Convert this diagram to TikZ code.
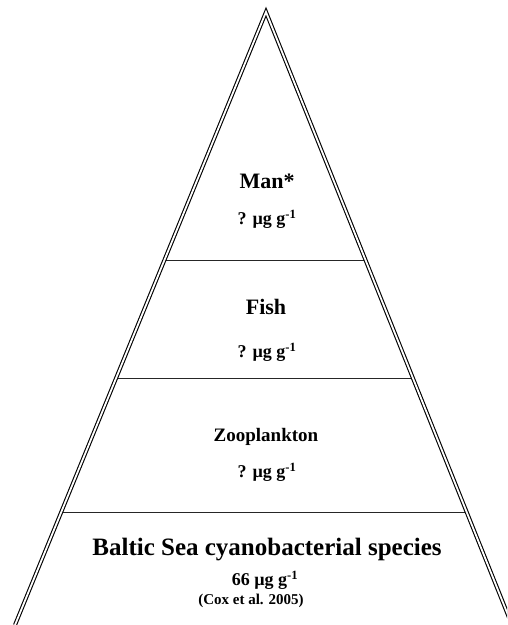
\documentclass[tikz,border=0pt]{standalone}
\usepackage{fontspec}
\setmainfont{Liberation Serif}
\usetikzlibrary{calc}
\tikzset{
  side/.style={double, double distance=1.8pt, line width=1.1pt, draw=black},
  divider/.style={line width=1.5pt, draw=black!85},
  lbl/.style={font=\bfseries, inner sep=0pt, anchor=center},
}
\newcommand{\fs}[1]{\fontsize{#1}{#1}\selectfont}
\begin{document}
\begin{tikzpicture}[x=1pt,y=-1pt]
\useasboundingbox (0,0) rectangle (507,625);
\coordinate (apex) at (266,12);
\coordinate (bl) at (15,625);
\coordinate (br) at (512,625);
% dividers
\foreach \yy/\nm in {260.5/a,378.5/b,512.5/c}{
  \pgfmathsetmacro{\t}{(\yy-12)/613}
  \coordinate (L\nm) at ($(apex)!\t!(bl)$);
  \coordinate (R\nm) at ($(apex)!\t!(br)$);
  \draw[divider] (L\nm) -- (R\nm);
}
\begin{scope}
\clip (0,0) rectangle (507,625);
\draw[side] (bl) -- (apex) -- (br);
\end{scope}
% labels
\node[lbl] (man) at (267,181) {\fs{22}Man*};
\node[lbl] (manv) at (267,219) {\fs{18}? µg g\textsuperscript{-1}};
\node[lbl] (fish) at (266,307) {\fs{22}Fish};
\node[lbl] (fishv) at (267,352) {\fs{18}? µg g\textsuperscript{-1}};
\node[lbl] (zoo) at (266,437) {\fs{19}Zooplankton};
\node[lbl] (zoov) at (267,472) {\fs{18}? µg g\textsuperscript{-1}};
\node[lbl] (balt) at (267,550) {\fs{25}Baltic Sea cyanobacterial species};
\node[lbl] (baltv) at (265,580) {\fs{18}66 µg g\textsuperscript{-1}};
\node[lbl] (cox) at (251,601) {\fs{15}(Cox et al. 2005)};
\end{tikzpicture}
\end{document}
